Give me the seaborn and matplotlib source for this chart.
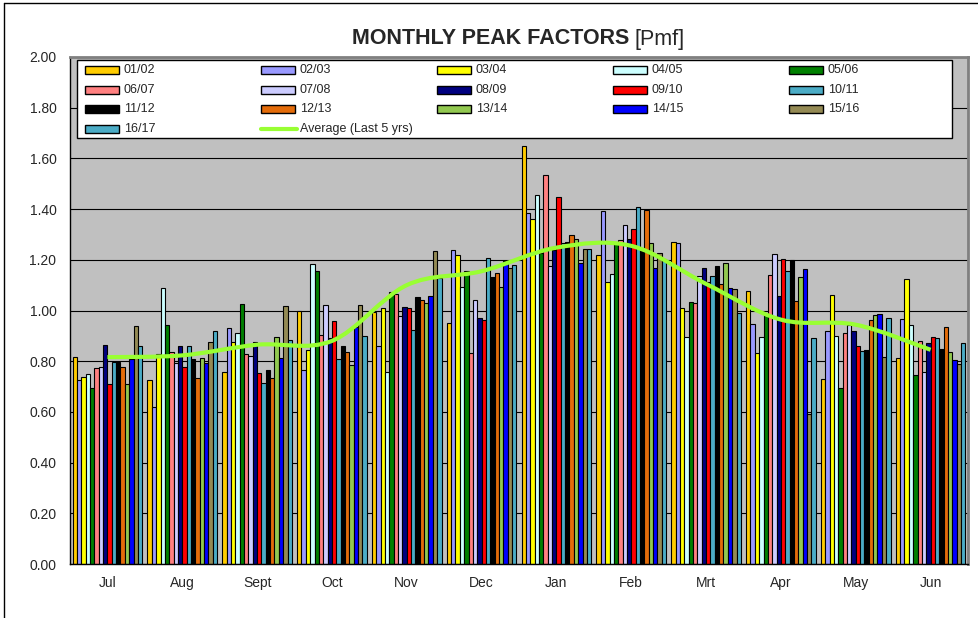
import numpy as np
import pandas as pd
import matplotlib
matplotlib.use("Agg")
import matplotlib.pyplot as plt
from matplotlib.patches import Rectangle, PathPatch
from matplotlib.lines import Line2D
from matplotlib.path import Path
from matplotlib.ticker import FormatStrFormatter
import seaborn as sns

# --- data (Jul .. Jun) ---
months = ["Jul", "Aug", "Sept", "Oct", "Nov", "Dec", "Jan", "Feb", "Mrt", "Apr", "May", "Jun"]

s0102 = [0.817, 0.724, 0.756, 1.000, 0.995, 0.950, 1.649, 1.219, 1.272, 1.076, 0.729, 0.813]
s0203 = [0.724, 0.618, 0.932, 0.765, 0.858, 1.238, 1.385, 1.391, 1.268, 0.947, 0.918, 0.965]
s0304 = [0.736, 0.827, 0.874, 0.844, 1.010, 1.219, 1.359, 1.114, 1.010, 0.832, 1.060, 1.124]
s0405 = [0.749, 1.090, 0.910, 1.184, 0.756, 1.094, 1.454, 1.143, 0.894, 0.894, 0.898, 0.941]
s0506 = [0.694, 0.943, 1.024, 1.156, 1.072, 1.155, 1.227, 1.267, 1.033, 0.983, 0.696, 0.746]
s0607 = [0.773, 0.835, 0.827, 0.903, 1.066, 0.831, 1.535, 1.277, 1.030, 1.139, 0.912, 0.878]
s0708 = [0.777, 0.791, 0.819, 1.020, 0.979, 1.042, 1.174, 1.339, 1.138, 1.223, 0.941, 0.759]
s0809 = [0.865, 0.860, 0.877, 0.890, 1.015, 0.969, 1.238, 1.282, 1.169, 1.056, 0.920, 0.871]
s0910 = [0.709, 0.777, 0.752, 0.957, 1.010, 0.962, 1.446, 1.322, 1.111, 1.205, 0.858, 0.894]
s1011 = [0.798, 0.861, 0.713, 0.810, 0.924, 1.206, 1.267, 1.410, 1.138, 1.155, 0.842, 0.891]
s1112 = [0.798, 0.810, 0.765, 0.860, 1.053, 1.134, 1.269, 1.240, 1.177, 1.201, 0.845, 0.849]
s1213 = [0.777, 0.733, 0.733, 0.835, 1.042, 1.148, 1.296, 1.397, 1.103, 1.039, 0.962, 0.935]
s1314 = [0.709, 0.811, 0.894, 0.786, 1.030, 1.094, 1.284, 1.267, 1.188, 1.131, 0.981, 0.835]
s1415 = [0.808, 0.792, 0.813, 0.935, 1.057, 1.197, 1.188, 1.168, 1.087, 1.165, 0.985, 0.803]
s1516 = [0.939, 0.877, 1.018, 1.020, 1.235, 1.166, 1.243, 1.227, 1.086, 0.591, 0.817, 0.788]
s1617 = [0.858, 0.918, 0.882, 0.900, 1.128, 1.180, 1.244, 1.205, 0.991, 0.891, 0.972, 0.871]

avg_last5 = [0.816, 0.823, 0.865, 0.880, 1.100, 1.155, 1.248, 1.255, 1.105, 0.964, 0.944, 0.845]

seasons = ["01/02", "02/03", "03/04", "04/05", "05/06", "06/07", "07/08", "08/09",
           "09/10", "10/11", "11/12", "12/13", "13/14", "14/15", "15/16", "16/17"]
series = [s0102, s0203, s0304, s0405, s0506, s0607, s0708, s0809,
          s0910, s1011, s1112, s1213, s1314, s1415, s1516, s1617]
colors = ["#FFCC00", "#9999FF", "#FFFF00", "#CCFFFF", "#008000", "#FF8080", "#CCCCFF", "#000080",
          "#FF0000", "#4BACC6", "#000000", "#E46C0A", "#92C850", "#0000FF", "#948A54", "#4BACC6"]
avg_color = "#99FF33"

W, H = 979, 618


def fx(x):
    return x / W


def fy(y):
    return 1 - y / H


sns.set_style("white")
plt.rcParams["font.family"] = ["Liberation Sans", "DejaVu Sans"]

fig = plt.figure(figsize=(W / 100, H / 100), dpi=100)
ax = fig.add_axes([fx(70), fy(564), (968 - 70) / W, (564 - 57) / H])
ax.set_facecolor("#C0C0C0")

rows = []
for name, vals in zip(seasons, series):
    for m, v in zip(months, vals):
        rows.append((m, name, v))
df = pd.DataFrame(rows, columns=["month", "season", "pmf"])

sns.barplot(data=df, x="month", y="pmf", hue="season", order=months, hue_order=seasons,
            palette=colors, saturation=1, width=0.93, edgecolor="black", linewidth=0.8,
            errorbar=None, legend=False, ax=ax, zorder=2)

# smoothed average line (bezier through the monthly points)
pts = np.column_stack([np.arange(len(months)), avg_last5])
n = len(pts)
verts = [pts[0]]
codes = [Path.MOVETO]
for i in range(n - 1):
    p0 = pts[max(i - 1, 0)]
    p1 = pts[i]
    p2 = pts[i + 1]
    p3 = pts[min(i + 2, n - 1)]
    verts += [p1 + (p2 - p0) / 6, p2 - (p3 - p1) / 6, p2]
    codes += [Path.CURVE4] * 3
ax.add_patch(PathPatch(Path(verts, codes), fill=False, edgecolor=avg_color, lw=3, zorder=4))

ax.set_xlim(-0.5, len(months) - 0.5)
ax.set_ylim(0, 2)
ax.set_yticks(np.arange(0, 2.01, 0.2))
ax.yaxis.set_major_formatter(FormatStrFormatter("%.2f"))
ax.set_axisbelow(True)
ax.yaxis.grid(True, color="black", lw=0.8)
ax.xaxis.grid(False)
ax.set_xlabel("")
ax.set_ylabel("")

ax.set_xticks(range(len(months)))
ax.set_xticklabels(months)
ax.set_xticks(np.arange(-0.5, len(months), 1), minor=True)
ax.tick_params(axis="x", which="major", length=0, pad=8.5, labelsize=10)
ax.tick_params(axis="x", which="minor", length=3, width=0.8, direction="out", color="black")
ax.tick_params(axis="y", length=3, width=0.8, direction="out", pad=6.8, labelsize=10, color="black")

for side in ["left", "bottom"]:
    ax.spines[side].set_color("black")
    ax.spines[side].set_linewidth(1)
for side in ["top", "right"]:
    ax.spines[side].set_color("#808080")
    ax.spines[side].set_linewidth(2)

# legend box drawn by hand, 5 columns, row-wise order
fig.add_artist(Rectangle((fx(77), fy(138)), (952 - 77) / W, (138 - 60) / H,
                         transform=fig.transFigure, facecolor="white",
                         edgecolor="black", lw=1, zorder=5))
labels = seasons + ["Average (Last 5 yrs)"]
for k, label in enumerate(labels):
    r, c = divmod(k, 5)
    x0 = 85 + c * 176
    yc = 70 + r * 19.7
    if k < len(seasons):
        fig.add_artist(Rectangle((fx(x0), fy(yc + 4)), 34 / W, 8 / H,
                                 transform=fig.transFigure, facecolor=colors[k],
                                 edgecolor="black", lw=1, zorder=6))
    else:
        fig.add_artist(Line2D([fx(x0), fx(x0 + 36)], [fy(yc), fy(yc)],
                              transform=fig.transFigure, color=avg_color, lw=3, zorder=6))
    fig.text(fx(x0 + 39), fy(yc), label, fontsize=9, va="center", ha="left", zorder=7)

# title: bold part + plain unit
fig.text(fx(629), fy(44.5), "MONTHLY PEAK FACTORS", fontsize=15.5, fontweight="bold",
         ha="right", va="baseline")
fig.text(fx(635), fy(44.5), "[Pmf]", fontsize=15.5, ha="left", va="baseline")

# outer chart border (left and top edges visible)
fig.add_artist(Line2D([fx(4), fx(4)], [fy(3), 0], transform=fig.transFigure, color="black", lw=1))
fig.add_artist(Line2D([fx(4), 1], [fy(3), fy(3)], transform=fig.transFigure, color="black", lw=1))

fig.savefig("out.png", dpi=100)
